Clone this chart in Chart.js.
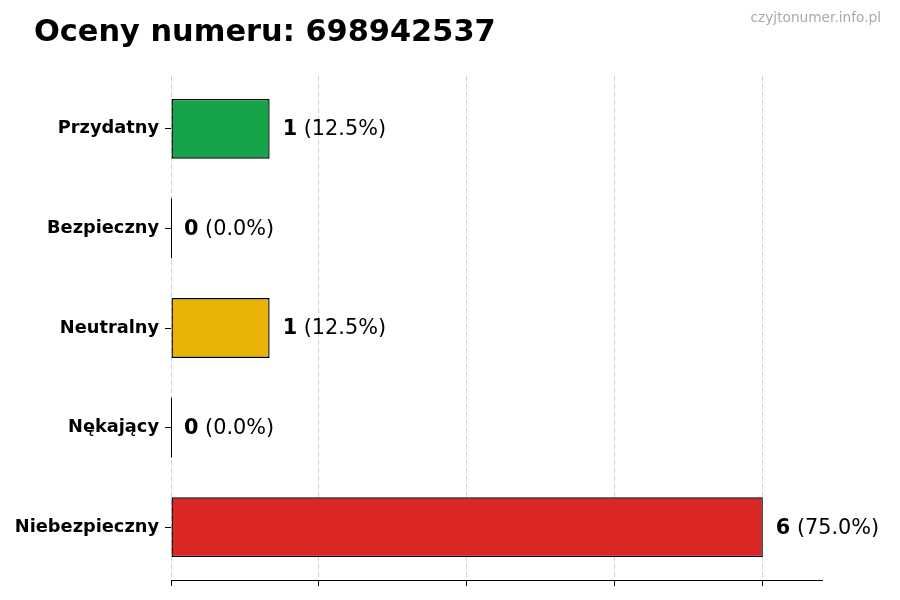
<!DOCTYPE html>
<html>
<head>
<meta charset="utf-8">
<script src="https://cdn.jsdelivr.net/npm/chart.js@4.4.1/dist/chart.umd.min.js"></script>
<style>
html,body{margin:0;padding:0;background:#fff;}
#wrap{width:900px;height:600px;position:relative;}
</style>
</head>
<body>
<div id="wrap"><canvas id="c" width="900" height="600"></canvas></div>
<script>
const categories = ["Przydatny", "Bezpieczny", "Neutralny", "Nękający", "Niebezpieczny"];
const counts = [1, 0, 1, 0, 6];
const percents = ["12.5%", "0.0%", "12.5%", "0.0%", "75.0%"];
const barColors = ["#16a34a", "#16a34a", "#eab308", "#eab308", "#dc2626"];
const xTicks = [0, 1.5, 3, 4.5, 6];
const xMax = 6.6;
const yMin = -0.53;
const yMax = 4.53;
const titleText = "Oceny numeru: 698942537";
const watermark = "czyjtonumer.info.pl";

const FONT = "'DejaVu Sans', sans-serif";

const overlay = {
  id: 'overlay',
  afterDatasetsDraw(chart) {
    const ctx = chart.ctx;
    const meta = chart.getDatasetMeta(0);
    ctx.save();
    meta.data.forEach((bar, i) => {
      if (counts[i] === 0) {
        ctx.strokeStyle = '#000';
        ctx.lineWidth = 1;
        ctx.beginPath();
        ctx.moveTo(bar.base + 0.5, bar.y - bar.height / 2);
        ctx.lineTo(bar.base + 0.5, bar.y + bar.height / 2);
        ctx.stroke();
      }
      const x = bar.x + 13;
      const y = bar.y + 1;
      ctx.textBaseline = 'middle';
      ctx.textAlign = 'left';
      ctx.fillStyle = '#000';
      ctx.font = "bold 20.8px " + FONT;
      const num = String(counts[i]);
      ctx.fillText(num, x, y);
      const w = ctx.measureText(num).width;
      ctx.font = "20.8px " + FONT;
      ctx.fillText(" (" + percents[i] + ")", x + w, y);
    });
    ctx.restore();
  },
  afterDraw(chart) {
    const ctx = chart.ctx;
    ctx.save();
    ctx.fillStyle = '#000';
    ctx.font = "bold 30.4px " + FONT;
    ctx.textAlign = 'left';
    ctx.textBaseline = 'alphabetic';
    ctx.fillText(titleText, 34, 41);
    ctx.fillStyle = '#aaaaaa';
    ctx.font = "13.7px " + FONT;
    ctx.textAlign = 'right';
    ctx.fillText(watermark, 881, 22);
    ctx.restore();
  }
};

new Chart(document.getElementById('c'), {
  type: 'bar',
  data: {
    datasets: [{
      data: counts.map((v, i) => ({ x: v, y: i })),
      backgroundColor: barColors,
      borderColor: '#000',
      borderWidth: 1.4,
      borderSkipped: false,
      barPercentage: 0.6,
      categoryPercentage: 1.0
    }]
  },
  options: {
    indexAxis: 'y',
    responsive: false,
    animation: false,
    devicePixelRatio: 1,
    layout: { padding: { left: 0, right: 78, top: 76, bottom: 0 } },
    plugins: { legend: { display: false }, tooltip: { enabled: false }, title: { display: false } },
    scales: {
      x: {
        type: 'linear',
        min: 0,
        max: xMax,
        z: 1,
        afterBuildTicks(scale) { scale.ticks = xTicks.map(v => ({ value: v })); },
        afterFit(scale) { scale.height = 20; },
        ticks: { display: false },
        grid: {
          display: true,
          offset: false,
          color: 'rgba(0,0,0,0.18)',
          lineWidth: 1,
          drawTicks: true,
          tickLength: 6,
          tickColor: '#000',
          tickBorderDash: [],
          tickWidth: 1
        },
        border: { display: true, color: '#000', width: 1, dash: [5, 3] }
      },
      y: {
        type: 'linear',
        min: yMin,
        max: yMax,
        reverse: true,
        offset: false,
        afterBuildTicks(scale) { scale.ticks = categories.map((c, i) => ({ value: i })); },
        afterFit(scale) { scale.width = 171; },
        ticks: {
          color: '#000',
          font: { family: FONT, size: 17.8, weight: 'bold' },
          padding: 6,
          callback: (v) => categories[v]
        },
        grid: {
          display: true,
          offset: false,
          drawOnChartArea: false,
          drawTicks: true,
          tickLength: 6,
          tickColor: '#000',
          tickWidth: 1
        },
        border: { display: false }
      }
    }
  },
  plugins: [overlay]
});
</script>
</body>
</html>
